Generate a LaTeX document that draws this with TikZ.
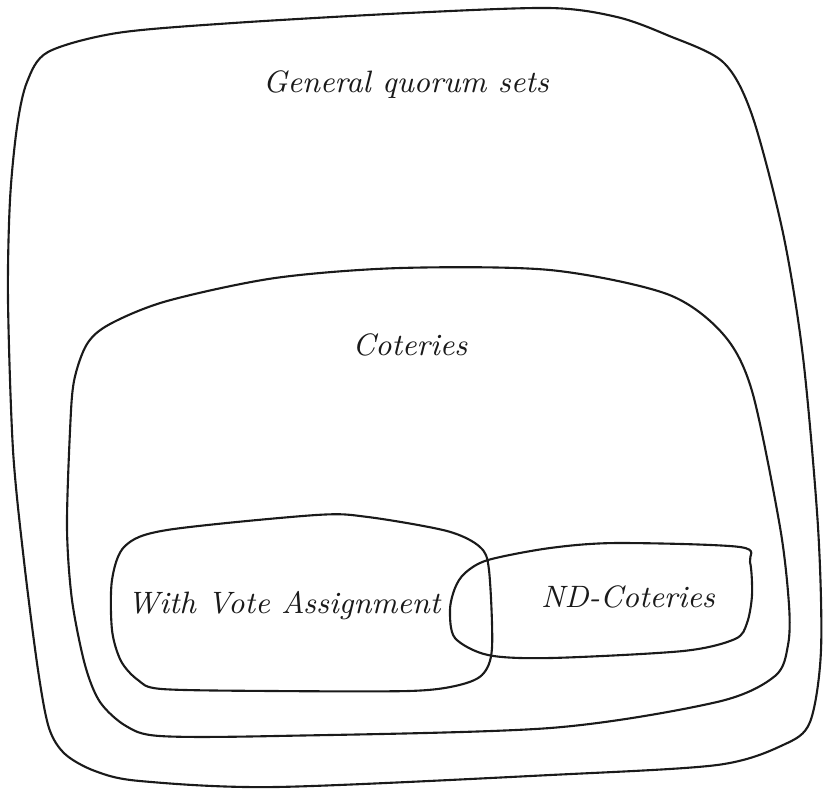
\documentclass[tikz,border=0pt]{standalone}
\usepackage{tikz}
\usepackage{xcolor}
\definecolor{inkline}{HTML}{1A1A1A}

\begin{document}
\begin{tikzpicture}[
      x=0.1mm, y=-0.1mm,
      lbl/.style={font=\fontsize{8.8}{10}\selectfont\itshape, text=inkline, inner sep=0pt},
      setline/.style={draw=inkline, line width=0.6pt, line join=round}]
    \useasboundingbox (0,0) rectangle (825,792);
    \draw[setline] plot[smooth cycle, tension=0.5] coordinates {
      (48,52) (117,33) (233,23) (408,13) (550,8) (617,17) (667,35) (723,62)
      (752,115) (783,233) (803,357) (818,527) (821,650) (810,722) (783,745)
      (717,765) (550,775) (275,787) (140,781) (95,771) (65,754) (49,728)
      (38,670) (24,561) (13,450) (8,300) (10,200) (17,127) (27,82)};
    \draw[setline] plot[smooth cycle, tension=0.5] coordinates {
      (87,344) (110,324) (167,301) (275,278) (400,268) (550,270) (667,294)
      (723,334) (752,391) (780,527) (789,605) (788,645) (775,676) (717,702)
      (550,728) (275,736) (160,736) (126,726) (100,702) (85,665) (72,600)
      (67,528) (70,431) (74,381)};
    \draw[setline] plot[smooth cycle, tension=0.5] coordinates {
      (125,546) (167,530) (316,515) (368,517) (447,531) (480,547) (489,570)
      (492,648) (482,675) (455,686) (408,691) (275,691) (162,689) (138,680)
      (121,661) (112,630) (112,580)};
    \draw[setline] plot[smooth cycle, tension=0.5] coordinates {
      (488,560) (550,548) (617,543) (740,547) (750,562) (752,595) (747,623)
      (735,639) (683,651) (550,658) (488,655) (455,638) (450,610) (455,588)
      (465,573)};
    \node[lbl] (gqs) at (406,85) {General quorum sets};
    \node[lbl] (cot) at (410,345) {Coteries};
    \node[lbl] (vote) at (284,606) {With Vote Assignment};
    \node[lbl] (nd) at (628,597) {ND-Coteries};
  \end{tikzpicture}
\end{document}
